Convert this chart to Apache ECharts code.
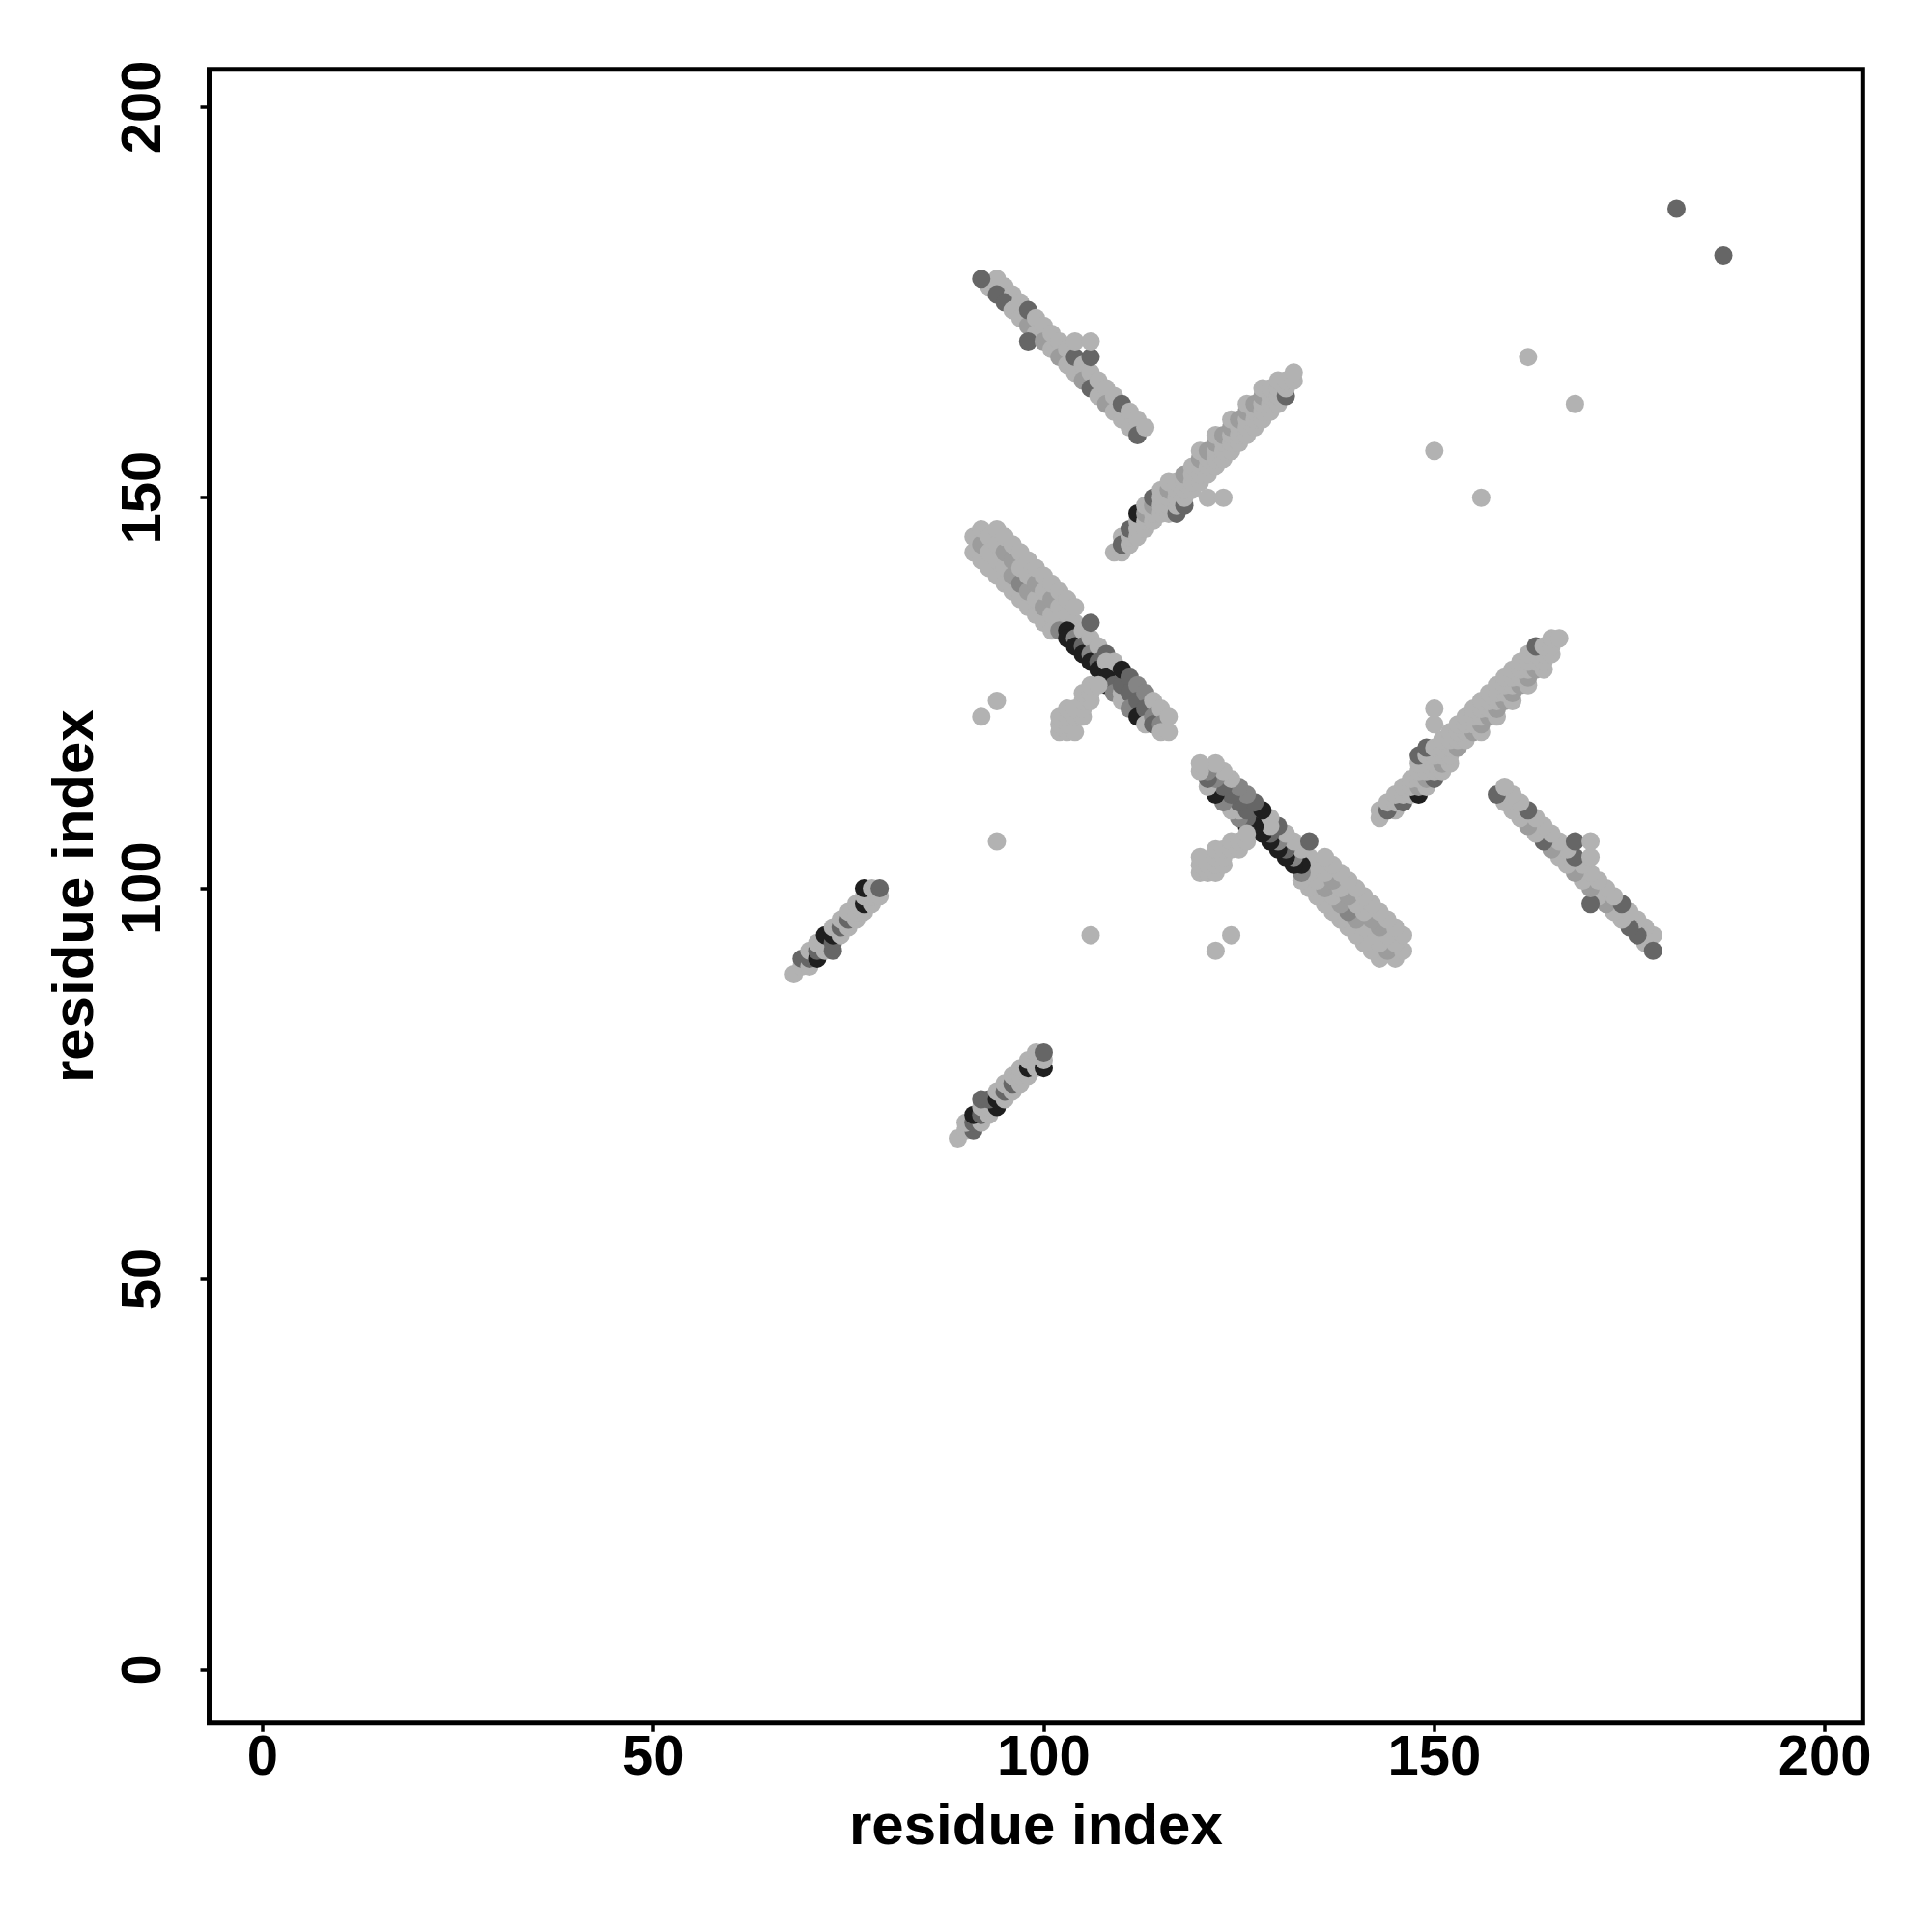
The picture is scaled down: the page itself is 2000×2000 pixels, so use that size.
<!DOCTYPE html>
<html>
<head>
<meta charset="utf-8">
<script src="https://cdn.jsdelivr.net/npm/echarts@6/dist/echarts.min.js"></script>
<style>html,body{margin:0;padding:0;background:#fff}#c{width:2000px;height:2000px}</style>
</head>
<body>
<div id="c"></div>
<script>
// Contact map (symmetric): pairs listed for the upper triangle as [i, j, shade]
// shade: 0 light, 1 mid-light, 2 mid, 3 dark, 4 black
const tickValues = [0, 50, 100, 150, 200];
const shadeColors = ['#b2b2b2', '#9c9c9c', '#858585', '#666666', '#1f1f1f'];

const strandA = [ // antiparallel, i ~92-113, j ~158-178
[93,177,0],[94,178,0],[92,178,3],[95,177,0],[94,176,3],[96,176,0],[95,175,3],[96,174,0],
[97,175,0],[97,173,0],[98,172,1],[98,174,3],[99,173,0],[99,171,0],[98,170,3],[100,172,0],
[100,170,1],[101,171,0],[101,169,0],[102,170,0],[102,168,1],[103,169,0],[103,167,0],
[104,166,0],[104,168,3],[104,170,0],[105,167,0],[105,165,1],[106,166,0],[106,168,3],[106,170,0],
[106,164,3],[107,165,0],[107,163,0],[108,164,0],[108,162,1],[109,163,0],[109,161,0],
[110,160,0],[110,162,3],[111,161,0],[111,159,0],[112,160,0],[112,158,3],[113,159,0]
];

const strandB = [ // parallel, i ~109-132, j ~143-166
[109,143,0],
[110,143,0],[110,145,0],[110,144,3],
[111,144,0],[111,145,0],[111,146,3],
[112,145,0],[112,146,0],[112,147,0],[112,148,4],
[113,146,0],[113,147,0],[113,148,1],[113,149,0],
[114,147,0],[114,148,0],[114,149,1],[114,150,3],
[115,148,0],[115,149,0],[115,150,0],[115,151,0],
[116,148,0],[116,149,0],[116,150,0],[116,151,1],[116,152,0],
[117,148,3],[117,149,0],[117,150,0],[117,151,0],[117,152,0],
[118,149,3],[118,150,0],[118,151,0],[118,152,0],[118,153,1],
[119,151,0],[119,152,0],[119,153,0],[119,154,0],
[120,152,0],[120,153,0],[120,154,0],[120,155,1],[120,156,0],
[121,153,0],[121,154,0],[121,155,0],[121,156,1],
[122,154,0],[122,155,0],[122,156,0],[122,157,1],[122,158,0],
[123,155,0],[123,156,0],[123,157,0],[123,158,1],
[124,156,0],[124,157,0],[124,158,0],[124,159,1],[124,160,0],
[125,157,0],[125,158,0],[125,159,0],[125,160,1],
[126,158,0],[126,159,0],[126,160,0],[126,161,1],[126,162,0],
[127,159,0],[127,160,0],[127,161,0],[127,162,1],
[128,160,0],[128,161,0],[128,162,0],[128,163,1],[128,164,0],
[129,161,0],[129,162,0],[129,163,0],[129,164,0],
[130,162,0],[130,163,0],[130,164,0],[130,165,0],
[131,163,3],[131,164,0],[131,165,0],
[132,165,0],[132,166,0]
];

const strandC = [ // antiparallel, i ~91-116, j ~120-146
[91,143,0],[91,145,0],
[92,142,0],[92,144,1],[92,146,0],
[93,141,0],[93,143,0],[93,145,0],
[94,140,0],[94,142,0],[94,144,0],[94,146,0],
[95,139,0],[95,141,0],[95,143,1],[95,145,0],
[96,138,0],[96,140,1],[96,142,1],[96,144,0],
[97,137,0],[97,139,2],[97,141,0],[97,143,0],
[98,136,0],[98,138,1],[98,140,0],[98,142,0],
[99,135,0],[99,137,0],[99,139,1],[99,141,0],
[100,134,0],[100,136,1],[100,138,0],[100,140,0],
[101,133,0],[101,135,0],[101,137,1],[101,139,0],
[102,134,0],[102,136,0],[102,138,0],
[103,135,0],[103,137,0],
[104,134,0],[104,136,0],
[102,133,2],[103,133,4],[103,132,4],[104,132,2],[104,131,4],
[105,133,0],[105,131,3],[105,130,4],
[106,132,0],[106,130,2],[106,129,4],[106,134,3],
[107,131,0],[107,129,3],[107,128,4],
[108,130,3],[108,129,0],[108,127,4],[108,126,4],
[109,129,0],[109,126,3],[109,125,2],
[110,125,0],[110,124,0],[110,126,3],[110,128,4],
[111,127,3],[111,125,3],[111,123,2],
[112,126,2],[112,124,3],[112,122,4],
[113,125,2],[113,123,3],[113,121,0],
[114,124,0],[114,122,2],[114,121,3],
[115,123,0],[115,121,2],[115,120,0],
[116,122,0],[116,120,0]
];

const branchC = [ // short parallel stub below strandC
[102,120,0],[103,120,0],[104,120,0],[102,121,0],[103,121,0],[102,122,0],[103,122,0],
[104,122,0],[103,123,0],[105,122,0],[104,123,0],[105,123,0],[105,124,0],[106,124,0],
[105,125,0],[106,125,0],[106,126,0],[107,126,0]
];

const strandD = [ // parallel, i ~68-79, j ~89-100
[68,89,0],[69,90,0],[69,91,3],[70,90,0],[70,91,3],[70,92,0],[71,91,4],[71,92,3],[71,93,0],
[72,92,0],[72,93,0],[73,92,3],[72,94,4],[73,93,3],[73,94,4],[73,95,0],[74,94,0],[74,95,3],
[74,96,0],[75,95,0],[75,96,3],[75,97,0],[76,96,0],[76,97,0],[76,98,0],[77,97,0],[77,98,4],
[77,99,0],[78,98,0],[78,99,0],[77,100,4],[78,100,0],[79,99,0],[79,100,3]
];

const isolated = [
[92,122,0],[94,124,0],[94,106,0],[121,150,0],[123,150,0],
[150,156,0],[162,168,0],[181,187,3]
];

const upper = [].concat(strandA, strandB, strandC, branchC, strandD, isolated);
const points = upper.concat(upper.map(p => [p[1], p[0], p[2]]));

const font = 'Liberation Sans, Arial, Helvetica, sans-serif';
const chart = echarts.init(document.getElementById('c'), null, {renderer: 'canvas', width: 2000, height: 2000});
chart.setOption({
  backgroundColor: '#ffffff',
  animation: false,
  grid: {left: 216.5, right: 71.7, top: 71.7, bottom: 216.3, show: true,
         borderColor: '#000', borderWidth: 5, backgroundColor: 'transparent'},
  xAxis: {
    type: 'value', min: -6.84, max: 204.84,
    name: 'residue index', nameLocation: 'middle', nameGap: 79,
    nameTextStyle: {fontSize: 60, fontWeight: 'bold', fontFamily: font, color: '#000'},
    axisLine: {show: false, onZero: false}, splitLine: {show: false},
    axisTick: {show: true, customValues: tickValues, length: 9, lineStyle: {color: '#000', width: 3.5}},
    axisLabel: {customValues: tickValues, fontSize: 58, fontWeight: 'bold', fontFamily: font, color: '#000', margin: 8}
  },
  yAxis: {
    type: 'value', min: -6.84, max: 204.84,
    name: 'residue index', nameLocation: 'middle', nameGap: 107,
    nameTextStyle: {fontSize: 60, fontWeight: 'bold', fontFamily: font, color: '#000'},
    axisLine: {show: false, onZero: false}, splitLine: {show: false},
    axisTick: {show: true, customValues: tickValues, length: 9, lineStyle: {color: '#000', width: 3.5}},
    axisLabel: {customValues: tickValues, rotate: 90, fontSize: 58, fontWeight: 'bold', fontFamily: font, color: '#000', margin: 38}
  },
  series: [{
    type: 'scatter',
    data: points,
    symbol: 'circle',
    symbolSize: 19,
    itemStyle: {color: p => shadeColors[p.value[2]], opacity: 1},
    emphasis: {disabled: true},
    silent: true
  }]
});
</script>
</body>
</html>
